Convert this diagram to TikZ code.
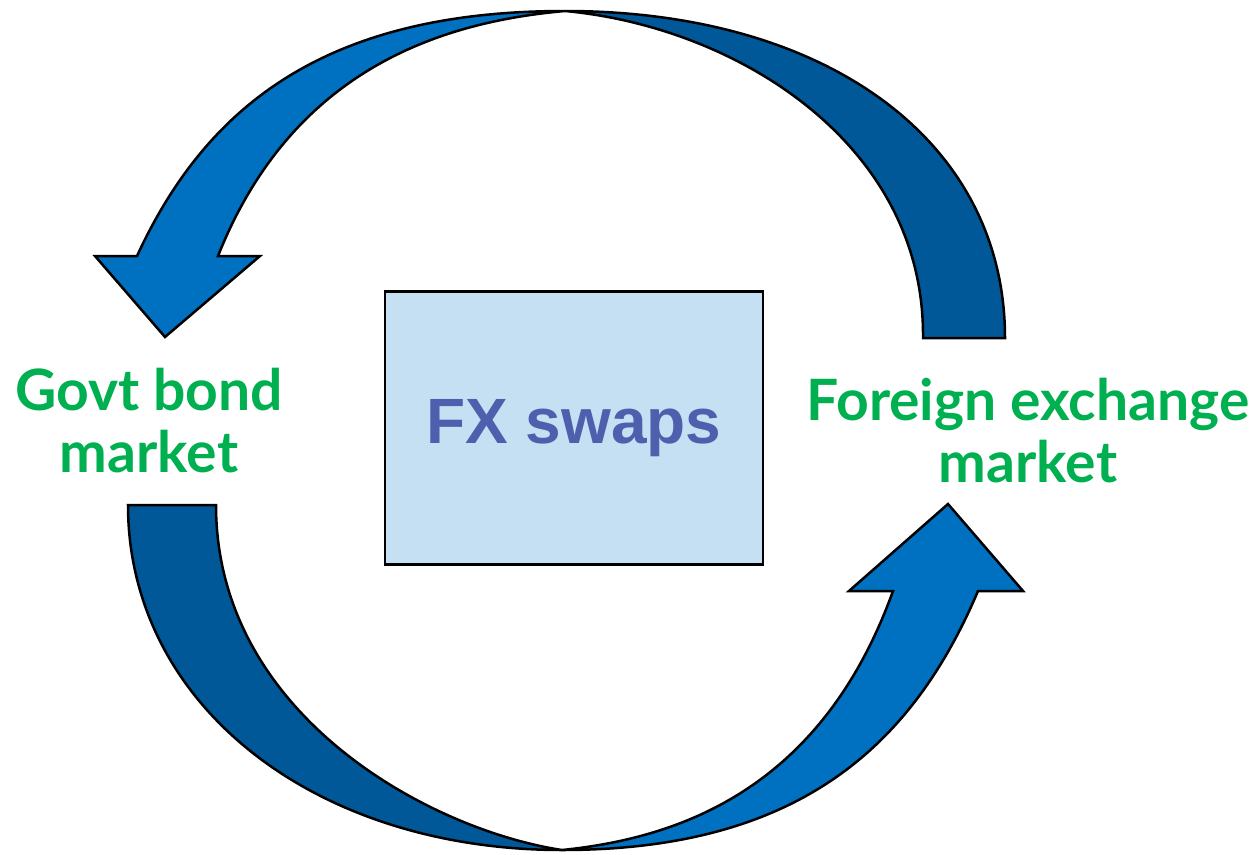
\documentclass[tikz,border=0pt]{standalone}
\usepackage{fontspec}
\usepackage{tikz}
\newfontfamily\labelfont{Lato}
\newfontfamily\boxfont{Liberation Sans}
\definecolor{arrowdark}{HTML}{005898}
\definecolor{arrowlight}{HTML}{0070C0}
\definecolor{labelgreen}{HTML}{00B050}
\definecolor{boxfill}{HTML}{C5DFF3}
\definecolor{boxtext}{HTML}{4D5FAD}

\begin{document}
\begin{tikzpicture}[x=1pt,y=-1pt,
    back/.style={fill=arrowdark, draw=black, line width=2.5pt},
    front/.style={fill=arrowlight, draw=black, line width=2.5pt},
    market/.style={text=labelgreen, align=center,
      font=\labelfont\bfseries\fontsize{57}{62}\selectfont}]
  \useasboundingbox (0,0) rectangle (1258,854);
  % upper arrow: tail on the right, head on the left
  \draw[back] (1005,338) .. controls (1005,141) and (827,11) .. (565,11)
    .. controls (738,27) and (925,145) .. (923,338) -- cycle;
  \draw[front] (565,11) .. controls (330,11) and (208,102) .. (137,256)
    -- (95,256) -- (165,337) -- (260,256) -- (218,256)
    .. controls (292,70) and (440,22) .. (565,11) -- cycle;
  % lower arrow: tail on the left, head on the right
  \draw[back] (128,505) .. controls (128,703) and (312,850) .. (562,850)
    .. controls (430,830) and (216,715) .. (216,505) -- cycle;
  \draw[front] (562,850) .. controls (790,850) and (909,754) .. (978,591)
    -- (1023,591) -- (948,504) -- (849,591) -- (893,591)
    .. controls (822,788) and (681,838) .. (562,850) -- cycle;
  % labels
  \node[draw=black, line width=2.5pt, fill=boxfill, minimum width=378pt,
        minimum height=273pt, text=boxtext,
        font=\boxfont\bfseries\fontsize{64}{70}\selectfont] (swaps) at (574,428) {FX swaps};
  \node[market] (govt) at (149,421) {Govt bond\\market};
  \node[market] (forex) at (1028,431) {Foreign exchange\\market};
\end{tikzpicture}
\end{document}
